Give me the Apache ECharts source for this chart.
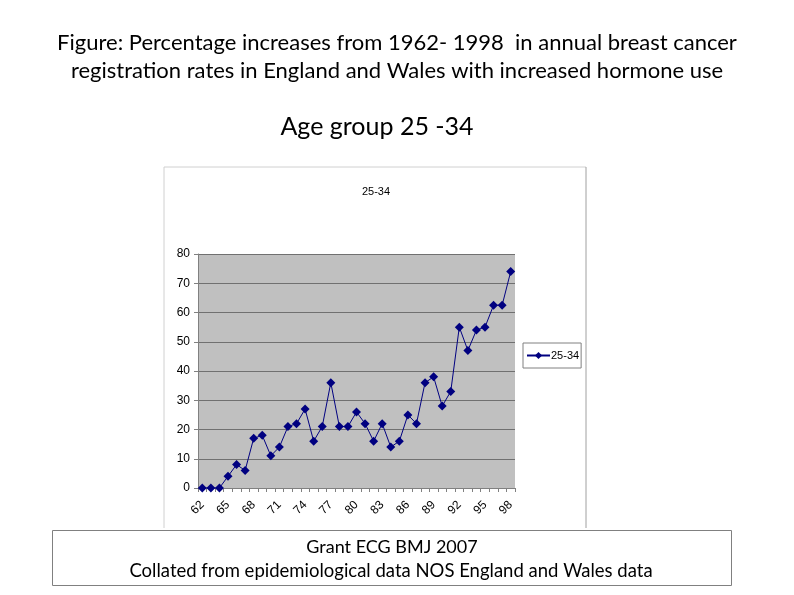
<!DOCTYPE html>
<html><head><meta charset="utf-8">
<script src="https://cdn.jsdelivr.net/npm/echarts@6/dist/echarts.min.js"></script>
<style>html,body{margin:0;padding:0;background:#fff}#c{width:794px;height:595px}</style>
</head><body><div id="c"></div>
<script>
const years = ['62','63','64','65','66','67','68','69','70','71','72','73','74','75','76','77','78','79','80','81','82','83','84','85','86','87','88','89','90','91','92','93','94','95','96','97','98'];
const values = [0,0,0,4,8,6,17,18,11,14,21,22,27,16,21,36,21,21,26,22,16,22,14,16,25,22,36,38,28,33,55,47,54,55,62.5,62.5,74];
const yTicks = [0,10,20,30,40,50,60,70,80];
const seriesName = '25-34';

const chart = echarts.init(document.getElementById('c'));
const F = 'Liberation Sans, Arial, sans-serif';
const T = 'Lato, Open Sans, sans-serif';
chart.setOption({
  animation: false,
  graphic: [
    {type: 'text', x: 397, y: 43, style: {text: 'Figure: Percentage increases from 1962- 1998  in annual breast cancer',
      align: 'center', verticalAlign: 'middle', fontFamily: T, fontSize: 22, fill: '#000'}},
    {type: 'text', x: 397, y: 71, style: {text: 'registration rates in England and Wales with increased hormone use',
      align: 'center', verticalAlign: 'middle', fontFamily: T, fontSize: 22, fill: '#000'}},
    {type: 'text', x: 377, y: 127, style: {text: 'Age group 25 -34',
      align: 'center', verticalAlign: 'middle', fontFamily: T, fontSize: 25, fill: '#000'}},
    {type: 'text', x: 376, y: 192, style: {text: seriesName,
      align: 'center', verticalAlign: 'middle', fontFamily: F, fontSize: 11, fill: '#000'}},
    {type: 'line', shape: {x1: 164, y1: 167, x2: 586, y2: 167}, style: {stroke: '#d0d0d0', lineWidth: 1}, z: -1},
    {type: 'line', shape: {x1: 586, y1: 167, x2: 586, y2: 528}, style: {stroke: '#a0a0a0', lineWidth: 1}, z: -1},
    {type: 'line', shape: {x1: 164, y1: 167, x2: 164, y2: 528}, style: {stroke: '#d0d0d0', lineWidth: 1}, z: -1},
    {type: 'rect', shape: {x: 52.5, y: 530.5, width: 679, height: 55}, style: {fill: '#fff', stroke: '#808080', lineWidth: 1}, z: 10},
    {type: 'text', x: 392, y: 547, z: 11, style: {text: 'Grant ECG BMJ 2007',
      align: 'center', verticalAlign: 'middle', fontFamily: T, fontSize: 18, fill: '#000'}},
    {type: 'text', x: 391, y: 571, z: 11, style: {text: 'Collated from epidemiological data NOS England and Wales data',
      align: 'center', verticalAlign: 'middle', fontFamily: T, fontSize: 18.5, fill: '#000'}}
  ],
  legend: {
    data: [seriesName], left: 523, top: 343, orient: 'vertical',
    padding: [7, 2, 7, 3], itemWidth: 23, itemHeight: 9, itemGap: 0,
    borderColor: '#808080', borderWidth: 1, backgroundColor: '#fff',
    textStyle: {fontFamily: F, fontSize: 11, color: '#000', padding: [0, 0, 0, -4]}
  },
  grid: {left: 198, right: 794 - 515, top: 254, bottom: 595 - 488, backgroundColor: '#c0c0c0', show: true, borderWidth: 0},
  xAxis: {
    type: 'category', data: years, boundaryGap: true,
    axisLine: {lineStyle: {color: '#808080'}},
    axisTick: {show: true, interval: 0, length: 4, lineStyle: {color: '#808080'}},
    axisLabel: {interval: 2, rotate: 45, fontFamily: F, fontSize: 12, color: '#000', margin: 15}
  },
  yAxis: {
    type: 'value', min: 0, max: 80, interval: 10,
    axisLine: {show: true, lineStyle: {color: '#808080'}},
    axisTick: {show: true, length: 4, lineStyle: {color: '#808080'}},
    axisLabel: {fontFamily: F, fontSize: 12, color: '#000', margin: 8, formatter: v => yTicks.includes(v) ? String(v) : ''},
    splitLine: {lineStyle: {color: '#707070', width: 1}}
  },
  series: [{
    name: seriesName, type: 'line', data: values,
    symbol: 'diamond', symbolSize: 9, showAllSymbol: true,
    lineStyle: {color: '#000080', width: 1},
    itemStyle: {color: '#000080'}
  }]
});
</script></body></html>
